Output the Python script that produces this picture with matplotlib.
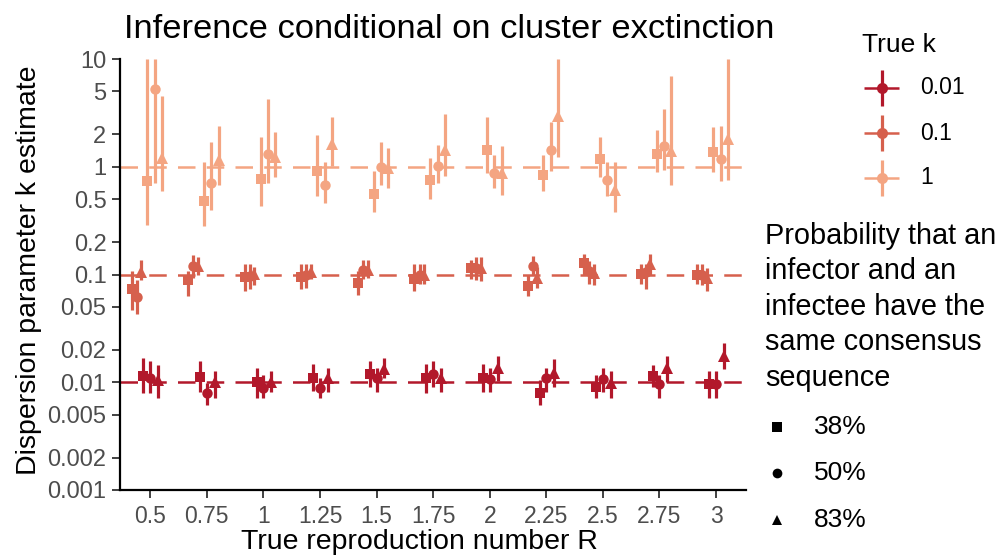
import numpy as np
import matplotlib
matplotlib.use("Agg")
import matplotlib.pyplot as plt

plt.rcParams['font.family'] = ['Liberation Sans', 'DejaVu Sans']

# true reproduction numbers (x categories)
R_labels = ["0.5", "0.75", "1", "1.25", "1.5", "1.75", "2", "2.25", "2.5", "2.75", "3"]
true_k = [0.01, 0.1, 1]
k_labels = ["0.01", "0.1", "1"]
prob_labels = ["38%", "50%", "83%"]

# estimates: rows = 38%, 50%, 83%
est_k001 = [
    [0.0115, 0.0113, 0.0100, 0.0110, 0.0119, 0.0110, 0.0110, 0.0079, 0.0091, 0.0115, 0.0096],
    [0.0109, 0.0079, 0.0089, 0.0089, 0.0109, 0.0119, 0.0107, 0.0109, 0.0107, 0.0096, 0.0096],
    [0.0105, 0.0100, 0.0100, 0.0109, 0.0133, 0.0109, 0.0135, 0.0121, 0.0098, 0.0135, 0.0177],
]
lo_k001 = [
    [0.0080, 0.0082, 0.0071, 0.0083, 0.0091, 0.0079, 0.0081, 0.0062, 0.0071, 0.0091, 0.0071],
    [0.0080, 0.0062, 0.0072, 0.0071, 0.0081, 0.0091, 0.0081, 0.0081, 0.0081, 0.0071, 0.0071],
    [0.0071, 0.0072, 0.0081, 0.0082, 0.0109, 0.0081, 0.0103, 0.0091, 0.0071, 0.0101, 0.0133],
]
hi_k001 = [
    [0.0167, 0.0156, 0.0137, 0.0147, 0.0156, 0.0147, 0.0147, 0.0105, 0.0117, 0.0145, 0.0126],
    [0.0156, 0.0098, 0.0117, 0.0109, 0.0137, 0.0156, 0.0135, 0.0137, 0.0137, 0.0117, 0.0126],
    [0.0145, 0.0127, 0.0127, 0.0137, 0.0167, 0.0137, 0.0177, 0.0165, 0.0126, 0.0177, 0.0230],
]

est_k01 = [
    [0.073, 0.088, 0.094, 0.094, 0.084, 0.090, 0.114, 0.078, 0.127, 0.101, 0.100],
    [0.062, 0.120, 0.096, 0.098, 0.109, 0.098, 0.114, 0.121, 0.107, 0.106, 0.100],
    [0.106, 0.120, 0.102, 0.106, 0.109, 0.100, 0.114, 0.093, 0.104, 0.124, 0.093],
]
lo_k01 = [
    [0.047, 0.063, 0.070, 0.073, 0.065, 0.070, 0.090, 0.063, 0.100, 0.081, 0.081],
    [0.043, 0.093, 0.074, 0.075, 0.090, 0.082, 0.088, 0.100, 0.081, 0.073, 0.080],
    [0.088, 0.100, 0.080, 0.090, 0.093, 0.081, 0.087, 0.075, 0.080, 0.100, 0.070],
]
hi_k01 = [
    [0.107, 0.107, 0.126, 0.126, 0.107, 0.126, 0.135, 0.100, 0.156, 0.124, 0.126],
    [0.088, 0.153, 0.126, 0.124, 0.135, 0.124, 0.145, 0.148, 0.133, 0.126, 0.124],
    [0.135, 0.145, 0.117, 0.126, 0.135, 0.124, 0.145, 0.117, 0.124, 0.156, 0.115],
]

est_k1 = [
    [0.73, 0.48, 0.77, 0.91, 0.56, 0.75, 1.44, 0.84, 1.18, 1.31, 1.36],
    [5.26, 0.71, 1.31, 0.68, 1.00, 1.02, 0.87, 1.44, 0.75, 1.57, 1.19],
    [1.20, 1.16, 1.23, 1.62, 0.97, 1.44, 0.87, 2.97, 0.61, 1.39, 1.82],
]
lo_k1 = [
    [0.29, 0.28, 0.43, 0.54, 0.38, 0.50, 0.87, 0.60, 0.81, 0.89, 0.89],
    [0.71, 0.40, 0.70, 0.46, 0.67, 0.70, 0.63, 0.92, 0.53, 0.94, 0.73],
    [0.60, 0.68, 0.80, 1.02, 0.64, 0.82, 0.55, 1.23, 0.38, 0.67, 0.76],
]
hi_k1 = [
    [10.0, 1.10, 1.89, 1.98, 0.92, 1.20, 2.89, 1.29, 1.89, 2.17, 2.33],
    [10.0, 1.68, 4.25, 1.10, 1.68, 1.60, 1.29, 2.58, 1.10, 3.43, 2.37],
    [4.50, 2.37, 2.08, 2.87, 1.49, 3.10, 1.57, 10.0, 1.10, 7.00, 10.0],
]

est = [est_k001, est_k01, est_k1]
lo = [lo_k001, lo_k01, lo_k1]
hi = [hi_k001, hi_k01, hi_k1]

colors = ["#B2182B", "#D6604D", "#F4A582"]
markers = ["s", "o", "^"]
msizes = [7.5, 7.5, 8.5]
# horizontal dodge per (true k, probability)
dodge = [[-0.12, 0.0, 0.14], [-0.33, -0.24, -0.16], [-0.05, 0.08, 0.21]]

fig = plt.figure(figsize=(10.01, 5.56), dpi=100)
W, H = 1001, 556
ax = fig.add_axes([120.3 / W, (H - 490) / H, (746 - 120.3) / W, (490 - 59) / H])

xpos = np.arange(len(R_labels))
for ki, k in enumerate(true_k):
    ax.axhline(k, color=colors[ki], lw=1.8, dashes=(7, 4.5), zorder=1)
for ki in range(3):
    for si in range(3):
        y = np.array(est[ki][si])
        yl = np.array(lo[ki][si])
        yh = np.array(hi[ki][si])
        ax.errorbar(xpos + dodge[ki][si], y, yerr=[y - yl, yh - y], fmt=markers[si],
                    color=colors[ki], ms=msizes[si], mew=0, elinewidth=2.3,
                    capsize=0, zorder=2 + ki)

ax.set_yscale("log")
ax.set_ylim(0.001, 10)
ax.set_xlim(-0.53, 10.53)
yticks = [0.001, 0.002, 0.005, 0.01, 0.02, 0.05, 0.1, 0.2, 0.5, 1, 2, 5, 10]
ax.set_yticks(yticks)
ax.set_yticklabels(["0.001", "0.002", "0.005", "0.01", "0.02", "0.05", "0.1", "0.2", "0.5", "1", "2", "5", "10"])
ax.yaxis.set_minor_locator(matplotlib.ticker.NullLocator())
ax.set_xticks(xpos)
ax.set_xticklabels(R_labels)
for s in ["top", "right"]:
    ax.spines[s].set_visible(False)
for s in ["left", "bottom"]:
    ax.spines[s].set_linewidth(1.6)
ax.tick_params(axis="both", colors="#333333", labelcolor="#4D4D4D",
               length=6, width=1.3)
ax.tick_params(axis="y", pad=4, labelsize=17)
ax.tick_params(axis="x", pad=5, labelsize=16.5)

# titles and legends drawn in a pixel-coordinate overlay
lg = fig.add_axes([0, 0, 1, 1], facecolor="none")
lg.set_xlim(0, W)
lg.set_ylim(H, 0)
lg.axis("off")
lg.text(124, 38, "Inference conditional on cluster exctinction", fontsize=24.8,
        va="baseline", ha="left")
lg.text(29, 270, "Dispersion parameter k estimate", fontsize=20.5, rotation=90,
        va="center", ha="center")
lg.text(419, 549, "True reproduction number R", fontsize=20.5, va="baseline", ha="center")

lg.text(862, 45, "True k", fontsize=19, va="center", ha="left")
for ki, yk in enumerate([88, 133, 178]):
    lg.plot([864, 899], [yk, yk], color=colors[ki], lw=1.8, solid_capstyle="butt")
    lg.plot([882, 882], [yk - 18, yk + 18], color=colors[ki], lw=2.3, solid_capstyle="butt")
    lg.plot([882], [yk], "o", color=colors[ki], ms=8, mew=0)
    lg.text(920, yk, k_labels[ki], fontsize=16.5, va="center", ha="left")
prob_title = "Probability that an\ninfector and an\ninfectee have the\nsame consensus\nsequence"
lg.text(765, 222, prob_title, fontsize=20.8, va="top", ha="left", linespacing=1.34)
for si, ys in enumerate([427, 473, 520]):
    lg.plot([777], [ys], markers[si], color="black", ms=7, mew=0)
    lg.text(814, ys, prob_labels[si], fontsize=19, va="center", ha="left")

fig.savefig("out.png", dpi=100)
